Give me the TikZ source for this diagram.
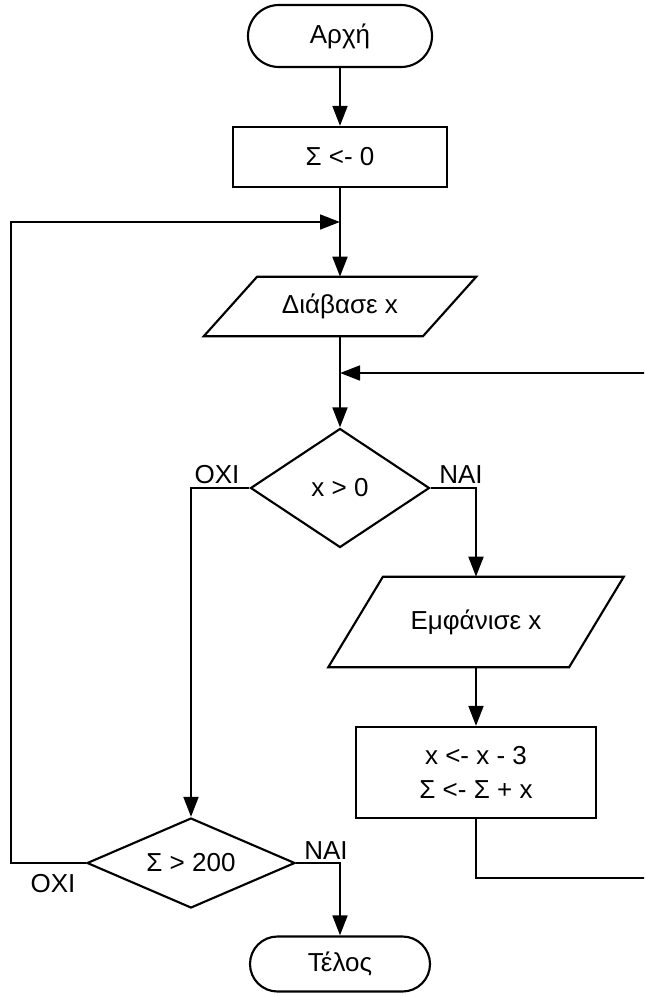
\documentclass[tikz,border=0pt]{standalone}
\usepackage{fontspec}
\setmainfont{Liberation Sans}
\usetikzlibrary{shapes.geometric,arrows.meta}
\begin{document}
\begin{tikzpicture}[x=0.75pt,y=-0.75pt,
  every node/.style={font=\fontsize{19.5}{25.5}\selectfont},
  shapeline/.style={draw=black,line width=1.6pt},
  term/.style={shapeline,rectangle,inner sep=0pt},
  proc/.style={shapeline,rectangle,inner sep=0pt,align=center},
  io/.style={rectangle,inner sep=0pt},
  dec/.style={shapeline,diamond,inner sep=0pt},
  conn/.style={line width=2.1pt},
  arr/.style={conn,-{Triangle[length=15pt,width=11pt]}},
  lbl/.style={inner sep=0pt}]
\useasboundingbox (0,0) rectangle (644,996);
\clip (0,0) rectangle (644,996);

\node[term,minimum width=138pt,minimum height=46.5pt,rounded corners=23.2pt] (start) at (340,36) {Αρχή};
\node[proc,minimum width=160.5pt,minimum height=45pt] (init) at (340,157) {Σ <- 0};
\node[io,minimum width=204pt,minimum height=44.25pt] (read) at (340,306.5) {Διάβασε x};
\draw[shapeline] ([xshift=40pt]read.north west) -- (read.north east) -- ([xshift=-40pt]read.south east) -- (read.south west) -- cycle;
\node[dec,minimum width=134.25pt,minimum height=89.25pt,aspect=1.5] (d1) at (340,488) {x > 0};
\node[io,minimum width=221.25pt,minimum height=67.5pt] (out) at (476,622) {Εμφάνισε x};
\draw[shapeline] ([xshift=41pt]out.north west) -- (out.north east) -- ([xshift=-41pt]out.south east) -- (out.south west) -- cycle;
\node[proc,minimum width=180pt,minimum height=68.25pt] (calc) at (476,772.5) {x <- x - 3\\Σ <- Σ + x};
\node[dec,minimum width=156pt,minimum height=67.5pt,aspect=2.3] (d2) at (191,863) {Σ > 200};
\node[term,minimum width=135pt,minimum height=41.25pt,rounded corners=20.6pt] (end) at (340,964) {Τέλος};

\coordinate (m1) at (340,222);
\coordinate (m2) at (340,373);
\coordinate (l1) at (11,863);
\coordinate (r1) at (652,878);
\coordinate (r2) at (652,373);

\draw[arr] (start.south) -- (init.north);
\draw[arr] (init.south) -- (read.north);
\draw[arr] (read.south) -- (d1.north);
\draw[arr] (d1.east) -| (out.north);
\draw[arr] (d1.west) -| (d2.north);
\draw[arr] (out.south) -- (calc.north);
\draw[arr] (calc.south) |- (r1) -- (r2) -- (m2);
\draw[arr] (d2.east) -| (end.north);
\draw[arr] (d2.west) -- (l1) |- (m1);

\node[lbl] (oxi1) at (217,475) {ΟΧΙ};
\node[lbl] (nai1) at (461,475) {ΝΑΙ};
\node[lbl] (oxi2) at (53,884) {ΟΧΙ};
\node[lbl] (nai2) at (326,851) {ΝΑΙ};
\end{tikzpicture}
\end{document}
